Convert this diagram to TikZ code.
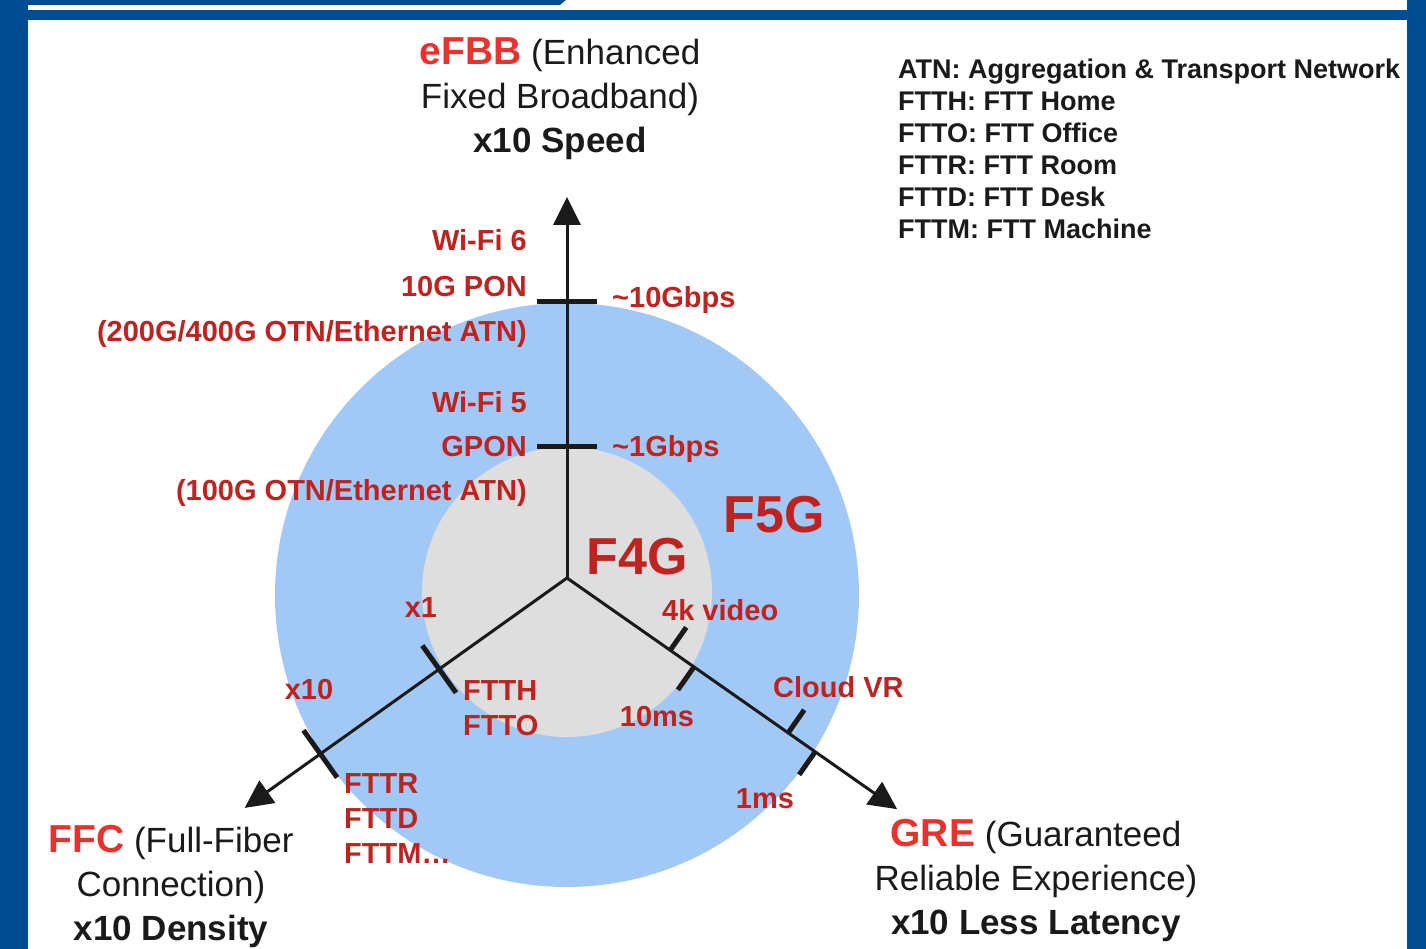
\documentclass[tikz,border=0pt]{standalone}
\usepackage{fontspec}
\setmainfont{Liberation Sans}
\usetikzlibrary{arrows.meta}
\definecolor{framec}{HTML}{004C93}
\definecolor{ringc}{HTML}{A2C9F5}
\definecolor{corec}{HTML}{DEDEDE}
\definecolor{labelc}{HTML}{BE2320}
\definecolor{headc}{HTML}{E8322B}
\definecolor{textc}{HTML}{1A1A1A}
\tikzset{
  border/.style={fill=framec},
  ring/.style={fill=ringc},
  core/.style={fill=corec},
  arm/.style={draw=textc, line width=3pt, -{Triangle[length=28pt,width=27pt]}},
  tickmark/.style={draw=textc, line width=5pt},
  lbl/.style={font=\fontsize{29}{35}\selectfont\bfseries, text=labelc, inner sep=0pt},
  genlbl/.style={font=\fontsize{52}{60}\selectfont\bfseries, text=labelc, inner sep=0pt, anchor=base},
  axishead/.style={font=\fontsize{35}{44}\selectfont, text=textc, align=center, inner sep=0pt, anchor=north},
  keybox/.style={font=\fontsize{27}{32}\selectfont\bfseries, text=textc, align=left, inner sep=0pt, anchor=north west},
}
\newcommand{\headword}[1]{{\fontsize{39}{44}\selectfont\bfseries\textcolor{headc}{#1}}}

\begin{document}
\begin{tikzpicture}[x=1pt, y=1pt]
\useasboundingbox (-567,-371) rectangle (859,578);
\fill[border] (-567,-371) rectangle (-539,578);
\fill[border] (840,-371) rectangle (859,578);
\fill[border] (-567,558) rectangle (859,568);
\fill[border] (-567,578) -- (-1,578) -- (-7,573) -- (-567,573) -- cycle;

\fill[ring] (0,-17) circle (292pt);
\fill[core] (0,-14) circle (145pt);

\coordinate (O) at (0,0);
\coordinate (up) at (0,381);
\coordinate (ffc) at (215.5:396pt);
\coordinate (gre) at (325:403pt);
\draw[arm] (O) -- (up);
\draw[arm] (O) -- (ffc);
\draw[arm] (O) -- (gre);

\foreach \r in {131,276} \draw[tickmark, rotate=90] (\r,-30) -- (\r,30);
\foreach \r in {157,303} \draw[tickmark, rotate=215.5] (\r,-29) -- (\r,29);
\foreach \r in {126,270} \draw[tickmark, rotate=325] (\r,0) -- (\r,28);
\foreach \r in {155,303} \draw[tickmark, rotate=325] (\r,0) -- (\r,-28);

\node[lbl, anchor=base east] (wifi6) at (-40,327) {Wi-Fi 6};
\node[lbl, anchor=base east] (pon10) at (-40,281) {10G PON};
\node[lbl, anchor=base east] (atn400) at (-40,236) {(200G/400G OTN/Ethernet ATN)};
\node[lbl, anchor=base west] (gb10) at (45,270) {\textasciitilde10Gbps};
\node[lbl, anchor=base east] (wifi5) at (-40,165) {Wi-Fi 5};
\node[lbl, anchor=base east] (gpon) at (-40,121) {GPON};
\node[lbl, anchor=base east] (atn100) at (-40,77) {(100G OTN/Ethernet ATN)};
\node[lbl, anchor=base west] (gb1) at (45,121) {\textasciitilde1Gbps};

\node[lbl, anchor=base] (x1) at (-146,-40) {x1};
\node[lbl, anchor=base] (x10) at (-258,-122) {x10};
\node[lbl, anchor=north west, align=left] (ftth) at (-104,-102) {FTTH\\FTTO};
\node[lbl, anchor=north west, align=left] (fttr) at (-223,-195) {FTTR\\FTTD\\FTTM\ldots};

\node[lbl, anchor=base west] (video) at (95,-43) {4k video};
\node[lbl, anchor=base] (ms10) at (90,-149) {10ms};
\node[lbl, anchor=base west] (cloudvr) at (206,-120) {Cloud VR};
\node[lbl, anchor=base] (ms1) at (198,-230) {1ms};

\node[genlbl] (f4g) at (70,3) {F4G};
\node[genlbl] (f5g) at (207,45) {F5G};

\node[axishead] (efbb) at (-7,541) {\headword{eFBB} (Enhanced\\Fixed Broadband)\\\textbf{x10 Speed}};
\node[axishead] (ffchead) at (-396,-247) {\headword{FFC} (Full-Fiber\\Connection)\\\textbf{x10 Density}};
\node[axishead] (grehead) at (469,-241) {\headword{GRE} (Guaranteed\\Reliable Experience)\\\textbf{x10 Less Latency}};

\node[keybox] (key) at (331,519) {ATN: Aggregation \& Transport Network\\FTTH: FTT Home\\FTTO: FTT Office\\FTTR: FTT Room\\FTTD: FTT Desk\\FTTM: FTT Machine};
\end{tikzpicture}
\end{document}
